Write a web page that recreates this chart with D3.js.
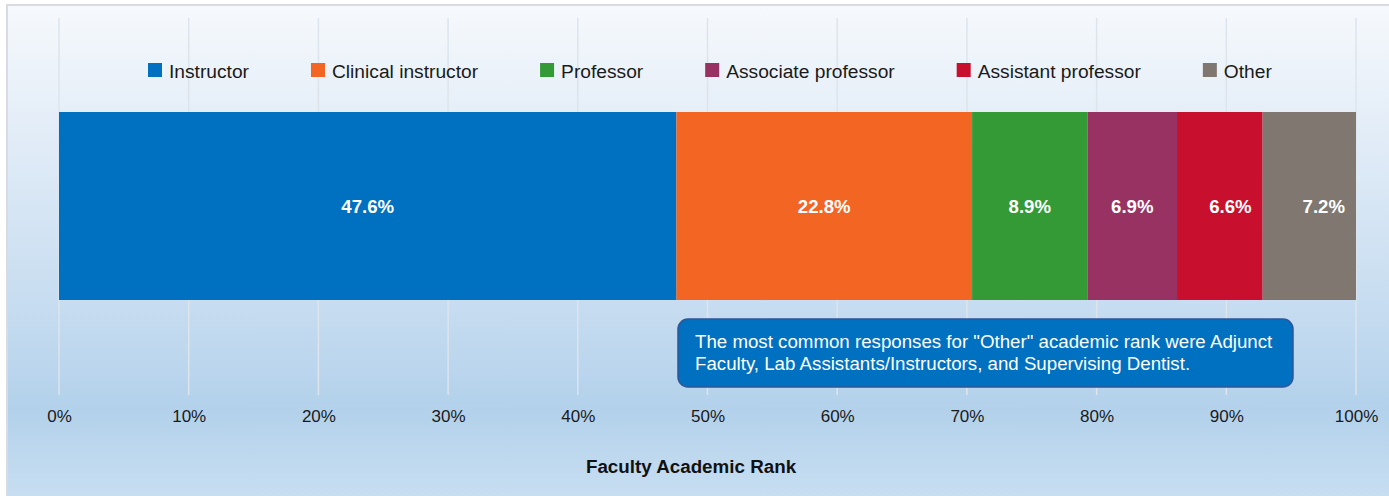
<!DOCTYPE html>
<html>
<head>
<meta charset="utf-8">
<script src="https://cdn.jsdelivr.net/npm/d3@7"></script>
<style>
  body { margin: 0; background: #fff; }
  svg { display: block; font-family: "Liberation Sans", Arial, sans-serif; }
</style>
</head>
<body>
<svg id="chart" width="1389" height="496"></svg>
<script>
// Data
var categories = ["Instructor", "Clinical instructor", "Professor", "Associate professor", "Assistant professor", "Other"];
var values = [47.6, 22.8, 8.9, 6.9, 6.6, 7.2];
var colours = ["#0070c0", "#f36523", "#349a36", "#983262", "#c8102e", "#807870"];
var tickValues = [0, 10, 20, 30, 40, 50, 60, 70, 80, 90, 100];
var noteLines = [
  "The most common responses for \"Other\" academic rank were Adjunct",
  "Faculty, Lab Assistants/Instructors, and Supervising Dentist."
];

var svg = d3.select("#chart"),
    W = 1389, H = 496;

//Background panel with gradient
var defs = svg.append("defs");
var grad = defs.append("linearGradient")
    .attr("id", "bg").attr("x1", 0).attr("y1", 0).attr("x2", 0).attr("y2", 1);
grad.append("stop").attr("offset", "0%").attr("stop-color", "#f6f9fc");
grad.append("stop").attr("offset", "22%").attr("stop-color", "#e5eef8");
grad.append("stop").attr("offset", "60%").attr("stop-color", "#c6dcf0");
grad.append("stop").attr("offset", "80%").attr("stop-color", "#b3d1eb");
grad.append("stop").attr("offset", "100%").attr("stop-color", "#cbe0f2");

svg.append("rect")
    .attr("x", 7).attr("y", 5)
    .attr("width", W + 10).attr("height", H + 10)
    .attr("fill", "url(#bg)")
    .attr("stroke", "#d8dce2")
    .attr("stroke-width", 2);

//Scales
var x = d3.scaleLinear().domain([0, 100]).range([59, 1356]);
var barTop = 112, barBottom = 300;

//Gridlines
svg.append("g")
    .selectAll("line")
    .data(tickValues)
    .enter()
    .append("line")
    .attr("x1", function(d) { return x(d); })
    .attr("x2", function(d) { return x(d); })
    .attr("y1", 18)
    .attr("y2", 395)
    .attr("stroke", "#dde4ec")
    .attr("stroke-width", 1.5);

//Axis labels
var axis = svg.append("g")
    .attr("transform", "translate(0,422)")
    .call(d3.axisBottom(x).tickValues(tickValues).tickSize(0).tickPadding(0)
        .tickFormat(function(d) { return d + "%"; }));
axis.select(".domain").remove();
axis.selectAll("text")
    .attr("dy", 0)
    .attr("y", 0)
    .style("font-family", "Liberation Sans, Arial, sans-serif")
    .style("font-size", "17px")
    .attr("fill", "#1a1a1a");

//Stacked bar
var stacked = [];
var acc = 0;
values.forEach(function(v, i) {
  stacked.push({ name: categories[i], value: v, x0: acc, x1: acc + v, colour: colours[i] });
  acc += v;
});

svg.selectAll("rect.seg")
    .data(stacked)
    .enter()
    .append("rect")
    .attr("class", "seg")
    .attr("x", function(d) { return x(d.x0); })
    .attr("width", function(d) { return x(d.x1) - x(d.x0); })
    .attr("y", barTop)
    .attr("height", barBottom - barTop)
    .attr("fill", function(d) { return d.colour; });

//Value labels (narrow last segments are pushed to the right edge)
svg.selectAll("text.val")
    .data(stacked)
    .enter()
    .append("text")
    .attr("class", "val")
    .attr("x", function(d, i) {
      return i >= 4 ? x(d.x1) - 11 : (x(d.x0) + x(d.x1)) / 2;
    })
    .attr("y", (barTop + barBottom) / 2 + 7)
    .attr("text-anchor", function(d, i) { return i >= 4 ? "end" : "middle"; })
    .style("font-size", "18.6px")
    .style("font-weight", "bold")
    .attr("fill", "#fff")
    .text(function(d) { return d.value.toFixed(1) + "%"; });

//Legend
var legend = svg.append("g");
var lx = 148;
categories.forEach(function(c, i) {
  var g = legend.append("g").attr("transform", "translate(" + lx + ",63)");
  g.append("rect").attr("width", 14).attr("height", 14).attr("fill", colours[i]);
  var t = g.append("text")
      .attr("x", 21).attr("y", 14.5)
      .style("font-size", "19.2px")
      .attr("fill", "#1a1a1a")
      .text(c);
  lx += 21 + t.node().getComputedTextLength() + 62;
});

//Annotation box
svg.append("rect")
    .attr("x", 678).attr("y", 319)
    .attr("width", 615).attr("height", 68)
    .attr("rx", 10).attr("ry", 10)
    .attr("fill", "#0070c0")
    .attr("stroke", "#2f5597")
    .attr("stroke-width", 1.5);
svg.append("g")
    .selectAll("text")
    .data(noteLines)
    .enter()
    .append("text")
    .attr("x", 695)
    .attr("y", function(d, i) { return 348 + i * 22; })
    .style("font-size", "18.7px")
    .attr("fill", "#fff")
    .text(function(d) { return d; });

//Axis title
svg.append("text")
    .attr("x", 691)
    .attr("y", 473)
    .attr("text-anchor", "middle")
    .style("font-size", "18.8px")
    .style("font-weight", "bold")
    .attr("fill", "#111")
    .text("Faculty Academic Rank");
</script>
</body>
</html>
